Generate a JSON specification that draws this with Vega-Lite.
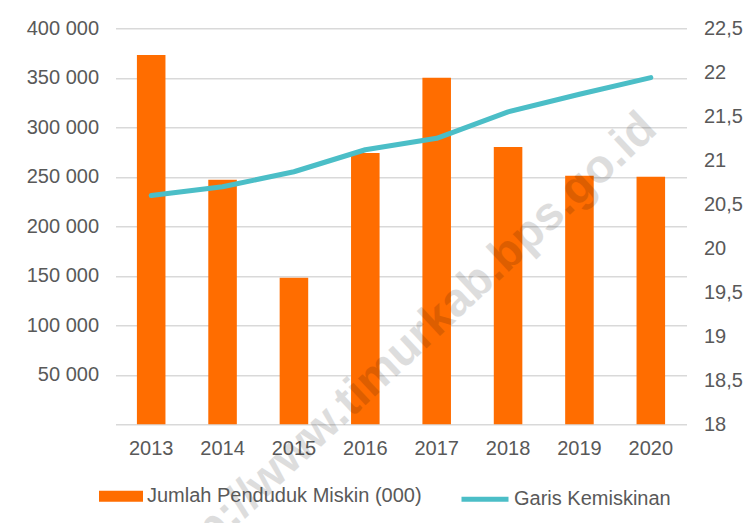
{
  "$schema": "https://vega.github.io/schema/vega-lite/v6.json",
  "width": 571,
  "height": 396,
  "autosize": "none",
  "padding": {"left": 115.5, "top": 28.3, "right": 63.5, "bottom": 98.7},
  "background": "white",
  "config": {
    "locale": {"number": {"decimal": ",", "thousands": " ", "grouping": [3], "currency": ["", ""]}},
    "view": {"stroke": null},
    "font": "Liberation Sans",
    "axis": {
      "labelFont": "Liberation Sans",
      "labelFontSize": 20,
      "labelColor": "#595959",
      "ticks": false,
      "domain": false,
      "title": null,
      "gridColor": "#D9D9D9",
      "gridWidth": 1.5
    },
    "legend": {
      "labelFont": "Liberation Sans",
      "labelFontSize": 20,
      "labelColor": "#595959",
      "labelLimit": 400,
      "title": null,
      "padding": 0,
      "labelOffset": 3
    }
  },
  "data": {
    "values": [
      {"tahun": "2013", "jumlah": 373000, "garis": 20.60},
      {"tahun": "2014", "jumlah": 247000, "garis": 20.70},
      {"tahun": "2015", "jumlah": 148000, "garis": 20.87},
      {"tahun": "2016", "jumlah": 274000, "garis": 21.12},
      {"tahun": "2017", "jumlah": 350000, "garis": 21.25},
      {"tahun": "2018", "jumlah": 280000, "garis": 21.55},
      {"tahun": "2019", "jumlah": 251000, "garis": 21.75},
      {"tahun": "2020", "jumlah": 250000, "garis": 21.94}
    ]
  },
  "encoding": {
    "x": {
      "field": "tahun",
      "type": "ordinal",
      "scale": {"paddingInner": 0.6, "paddingOuter": 0.3},
      "axis": {"labelAngle": 0, "labelPadding": 14, "domain": true, "domainColor": "#D9D9D9", "domainWidth": 1.5, "grid": false}
    }
  },
  "layer": [
    {
      "layer": [
        {
          "mark": {"type": "bar"},
          "encoding": {
            "y": {
              "field": "jumlah",
              "type": "quantitative",
              "scale": {"domain": [0, 400000]},
              "axis": {"values": [50000, 100000, 150000, 200000, 250000, 300000, 350000, 400000], "format": ",d", "labelPadding": 17, "grid": true}
            },
            "fill": {
              "datum": "Jumlah Penduduk Miskin (000)",
              "type": "nominal",
              "scale": {"range": ["#FF6D00"]},
              "legend": {"orient": "none", "legendX": -17.5, "legendY": 445, "symbolType": "M-1,-0.25H1V0.25H-1Z", "symbolSize": 1936}
            }
          }
        },
        {
          "data": {"values": [{"label": "http://www.timurkab.bps.go.id"}]},
          "mark": {"type": "text", "font": "Liberation Sans", "fontWeight": "bold", "fontSize": 47, "angle": -43, "align": "center", "baseline": "middle", "dx": -45, "fill": "#000000", "opacity": 0.13},
          "encoding": {
            "x": {"datum": "2017", "type": "ordinal"},
            "y": {"datum": 105600, "type": "quantitative"},
            "text": {"field": "label"}
          }
        }
      ]
    },
    {
      "mark": {"type": "line", "strokeWidth": 5, "strokeCap": "round", "strokeJoin": "round"},
      "encoding": {
        "y": {
          "field": "garis",
          "type": "quantitative",
          "scale": {"domain": [18, 22.5]},
          "axis": {"orient": "right", "values": [18, 18.5, 19, 19.5, 20, 20.5, 21, 21.5, 22, 22.5], "format": ".1~f", "labelPadding": 17, "grid": false}
        },
        "stroke": {
          "datum": "Garis Kemiskinan",
          "type": "nominal",
          "scale": {"range": ["#4BBEC7"]},
          "legend": {"orient": "none", "legendX": 343.5, "legendY": 445, "symbolType": "stroke", "symbolSize": 2209, "symbolStrokeWidth": 5}
        }
      }
    }
  ],
  "resolve": {"scale": {"y": "independent"}}
}
